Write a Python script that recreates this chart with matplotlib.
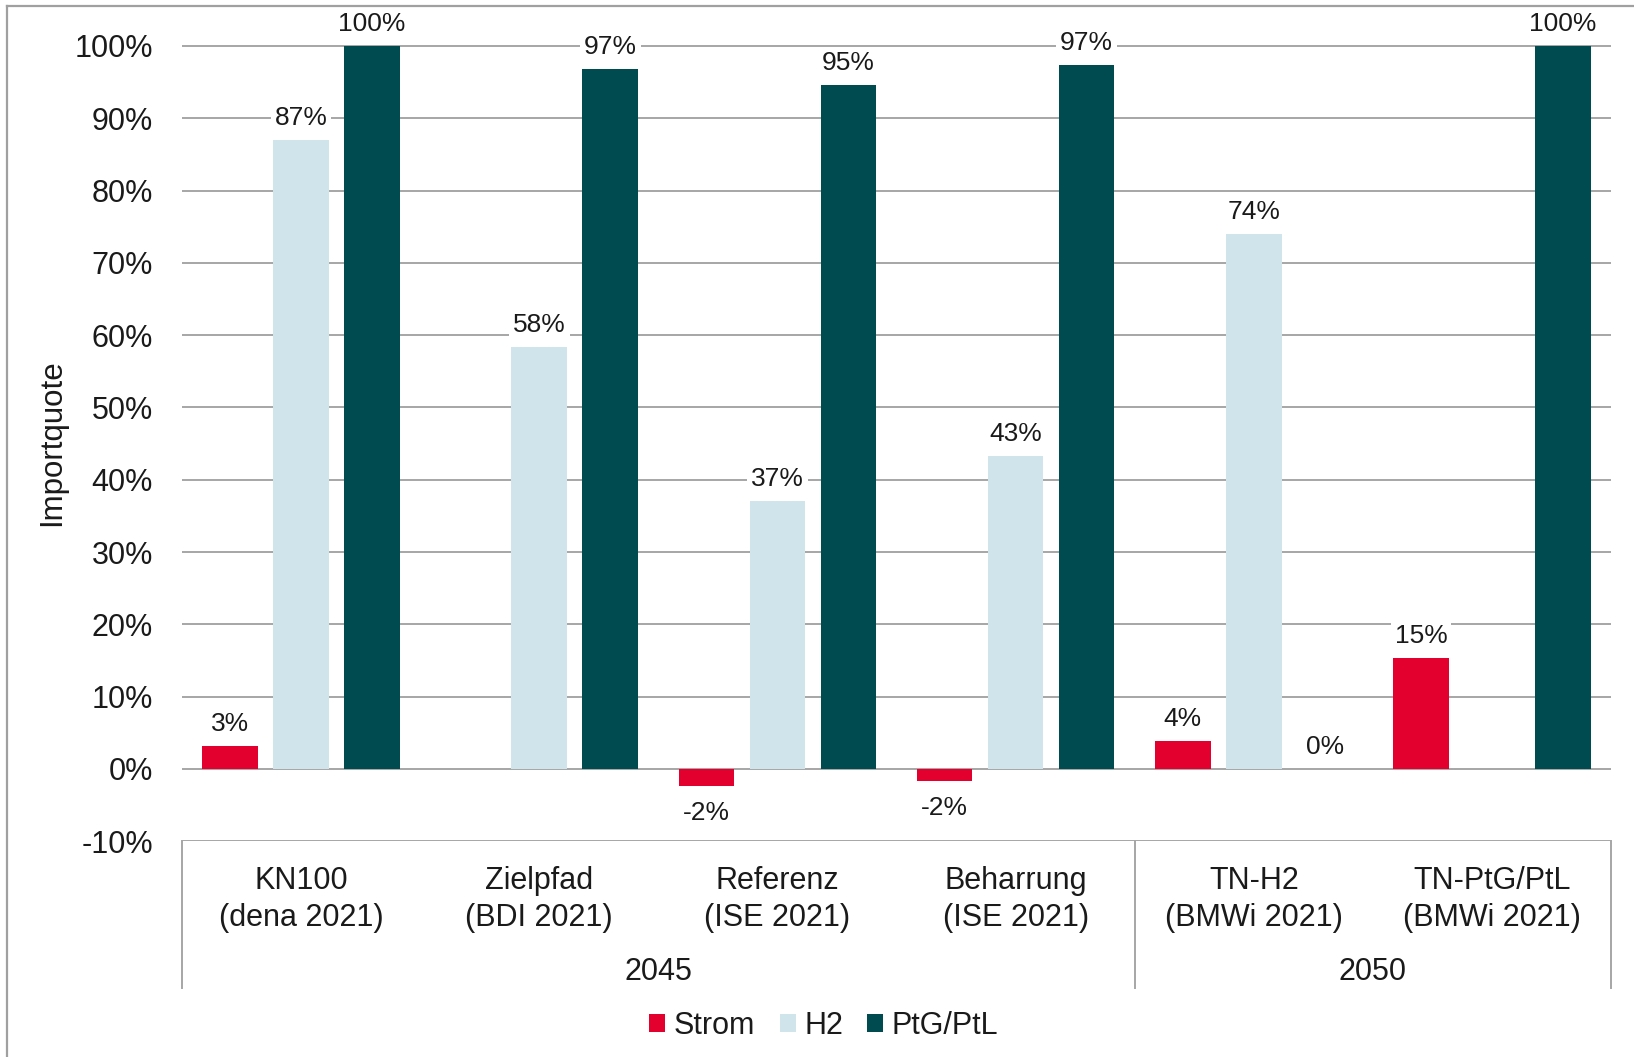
import matplotlib
matplotlib.use("Agg")
import matplotlib.pyplot as plt
from matplotlib.patches import Patch
from matplotlib.lines import Line2D
import numpy as np

plt.rcParams['font.family'] = ['Liberation Sans', 'DejaVu Sans']

# ---- data ----
scenarios = ["KN100\n(dena 2021)", "Zielpfad\n(BDI 2021)", "Referenz\n(ISE 2021)",
             "Beharrung\n(ISE 2021)", "TN-H2\n(BMWi 2021)", "TN-PtG/PtL\n(BMWi 2021)"]
years = ["2045", "2050"]
year_groups = [(0, 3), (4, 5)]  # index ranges of scenarios per year
series = ["Strom", "H2", "PtG/PtL"]
strom = [3.2, np.nan, -2.3, -1.7, 3.8, 15.4]
h2 = [87.0, 58.3, 37.1, 43.3, 74.0, np.nan]
ptg = [100.0, 96.8, 94.6, 97.4, 0.0, 100.0]
yticks = [-10, 0, 10, 20, 30, 40, 50, 60, 70, 80, 90, 100]

colors = ["#E4002E", "#D0E5EB", "#004B50"]
text_color = "#1A1A1A"
grid_color = "#A6A6A6"

W, H = 1634, 1057
fig = plt.figure(figsize=(W / 100, H / 100), dpi=100)

# axes placement (pixel geometry)
x0, x1 = 182, 1611
y_m10 = 841.2
px_per = 7.23
ytop = 105
y_top_px = y_m10 - (ytop + 10) * px_per
ax = fig.add_axes([x0 / W, 1 - y_m10 / H, (x1 - x0) / W, (y_m10 - y_top_px) / H])
ax.set_xlim(-0.5, len(scenarios) - 0.5)
ax.set_ylim(-10, ytop)

x = np.arange(len(scenarios))
bw = 0.234
off = 0.298
for i, (vals, c, name) in enumerate(zip([strom, h2, ptg], colors, series)):
    xs = x + (i - 1) * off
    v = np.array(vals, dtype=float)
    ax.bar(xs, np.nan_to_num(v), width=bw, color=c, zorder=3, label=name)
    for xi, vi in zip(xs, v):
        if np.isnan(vi):
            continue
        dy = 22 if vi >= 0 else -27
        ax.annotate(f"{vi:.0f}%", (xi, vi), xytext=(0, dy), textcoords="offset pixels",
                    ha="center", va="center", fontsize=19, color=text_color, zorder=5,
                    bbox=dict(boxstyle="square,pad=0.15", fc="white", ec="none"))

ax.set_yticks(yticks)
ax.set_yticklabels([f"{t}%" for t in yticks], fontsize=22, color=text_color)
ax.tick_params(axis="y", length=0, pad=21)
ax.set_xticks([])
ax.yaxis.grid(True, color=grid_color, lw=1.4)
ax.set_axisbelow(True)
for s in ax.spines.values():
    s.set_visible(False)

# category box below axis
y_bot = -10 - (988 - y_m10) / px_per
for xb in [-0.5, 3.5, 5.5]:
    ax.plot([xb, xb], [-10, y_bot], color=grid_color, lw=1.4, clip_on=False)

y_l1 = -10 - (881 - y_m10) / px_per
y_l2 = -10 - (918 - y_m10) / px_per
for xi, lab in zip(x, scenarios):
    a, b = lab.split("\n")
    ax.text(xi, y_l1, a, ha="center", va="center", fontsize=22, color=text_color, clip_on=False)
    ax.text(xi, y_l2, b, ha="center", va="center", fontsize=22, color=text_color, clip_on=False)

y_yr = -10 - (972 - y_m10) / px_per
for yr, (a, b) in zip(years, year_groups):
    ax.text((a + b) / 2, y_yr, yr, ha="center", va="center", fontsize=22, color=text_color, clip_on=False)

# y label
fig.text(52 / W, 1 - 443 / H, "Importquote", rotation=90, ha="center", va="center",
         fontsize=22.5, color=text_color)

# legend
handles = [Patch(facecolor=c, edgecolor="none") for c in colors]
fig.legend(handles, series, loc="center", bbox_to_anchor=(824 / W, 1 - 1026 / H), ncol=3,
           frameon=False, fontsize=22, handlelength=0.52, handleheight=0.52,
           handletextpad=0.28, columnspacing=0.8, labelcolor=text_color)

# outer frame (left and top)
fig.add_artist(Line2D([7 / W, 7 / W], [0, 1 - 6 / H], color="#A0A0A0", lw=1.6,
                      transform=fig.transFigure))
fig.add_artist(Line2D([7 / W, 1], [1 - 6 / H, 1 - 6 / H], color="#A0A0A0", lw=1.6,
                      transform=fig.transFigure))

fig.savefig("out.png", dpi=100, facecolor="white")
